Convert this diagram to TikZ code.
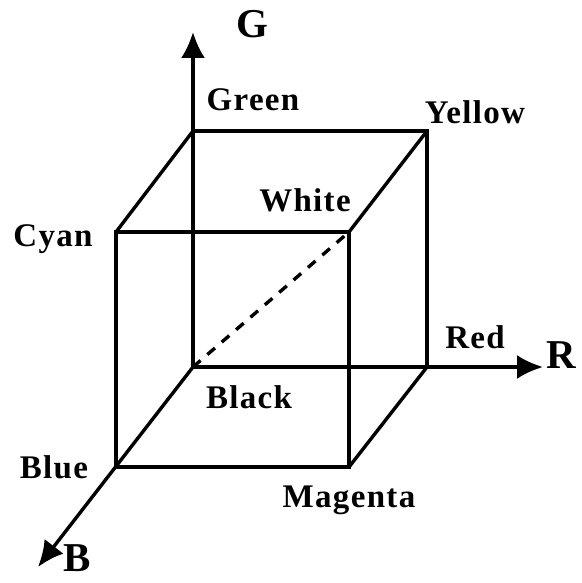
\documentclass[tikz,border=0pt]{standalone}
\usepackage{fontspec}
\setmainfont{Liberation Serif}
\newfontfamily\labfont[LetterSpace=4]{Liberation Serif}
\usetikzlibrary{arrows.meta}
\begin{document}
\begin{tikzpicture}[x=1pt,y=-1pt,
  edge/.style={line width=3.4pt, line cap=round, line join=miter},
  axis/.style={line width=3.4pt, -{Latex[length=26pt,width=24pt]}},
  lab/.style={inner sep=0pt, font=\labfont\bfseries\fontsize{33}{33}\selectfont},
  axlab/.style={inner sep=0pt, font=\bfseries\fontsize{41}{41}\selectfont}]
\useasboundingbox (0,0) rectangle (581,583);
% corners
\coordinate (K) at (193,367);
\coordinate (G) at (193,131);
\coordinate (Y) at (427,131);
\coordinate (R) at (427,367);
\coordinate (C) at (116,232);
\coordinate (W) at (349,232);
\coordinate (Bl) at (116,467);
\coordinate (M) at (349,467);
% axis ends
\coordinate (Gt) at (193,32);
\coordinate (Rt) at (543,367);
\coordinate (Bt) at (38,567);
% axes
\draw[axis] (K) -- (Gt);
\draw[axis] (K) -- (Rt);
\draw[axis] (K) -- (Bt);
% cube
\draw[edge] (G) -- (Y) -- (R);
\draw[edge] (C) -- (W) -- (M) -- (Bl) -- cycle;
\draw[edge] (G) -- (C);
\draw[edge] (Y) -- (W);
\draw[edge] (R) -- (M);
\draw[line width=3.4pt, dash pattern=on 10pt off 9pt] (K) -- (W);
% labels
\node[axlab] (lG) at (252,24) {G};
\node[axlab] (lR) at (561,355) {R};
\node[axlab] (lB) at (77,558) {B};
\node[lab] (lGreen) at (253,100) {Green};
\node[lab] (lYellow) at (475,112) {Yellow};
\node[lab] (lWhite) at (305,200) {White};
\node[lab] (lCyan) at (53,239) {Cyan};
\node[lab] (lRed) at (475,337) {Red};
\node[lab] (lBlack) at (249,397) {Black};
\node[lab] (lBlue) at (54,467) {Blue};
\node[lab] (lMagenta) at (349,500) {Magenta};
\end{tikzpicture}
\end{document}
